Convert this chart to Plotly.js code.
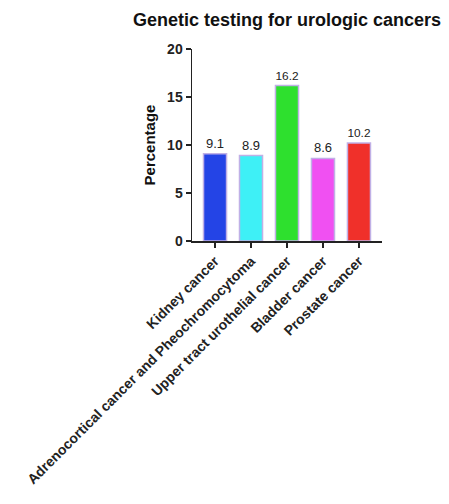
<!DOCTYPE html>
<html><head><meta charset="utf-8">
<script src="https://cdn.plot.ly/plotly-3.0.1.min.js"></script>
<style>html,body{margin:0;padding:0;background:#fff}</style>
</head><body><div id="c" style="width:449px;height:504px"></div>
<script>
const categories = ["Kidney cancer","Adrenocortical cancer and Pheochromocytoma","Upper tract urothelial cancer","Bladder cancer","Prostate cancer"];
const values = [9.1, 8.9, 16.2, 8.6, 10.2];
const valueLabels = ["9.1","8.9","16.2","8.6","10.2"];
const barColors = ["#2444e6","#3ef0f6","#2ee02e","#f050f2","#f0302a"];
const yTicks = [0,5,10,15,20];

Plotly.newPlot('c', [{
  type:'bar', x:categories, y:values, text:valueLabels,
  textposition:'outside', cliponaxis:false,
  textfont:{family:'Liberation Sans, Arial', size:13, color:'#222'},
  marker:{color:barColors, line:{color:'#c0b0e6', width:1.5}},
  width:0.64
}], {
  width:449, height:504,
  margin:{l:192, r:67, t:49, b:263},
  paper_bgcolor:'#fff', plot_bgcolor:'#fff',
  showlegend:false,
  title:{text:'<b>Genetic testing for urologic cancers</b>', x:287/449, xanchor:'center', y:1-20/504, yanchor:'middle',
    font:{family:'Liberation Sans, Arial', size:18, color:'#111'}},
  xaxis:{range:[-0.64,4.64], showline:true, linecolor:'#222', linewidth:1.5,
    ticks:'outside', ticklen:5, tickwidth:1.5, tickcolor:'#222', tickangle:-45,
    tickfont:{family:'Liberation Sans, Arial', size:14, color:'#222', weight:'bold'}, showgrid:false, zeroline:false},
  yaxis:{range:[0,20], tickvals:yTicks, showline:true, linecolor:'#222', linewidth:1.5,
    ticks:'outside', ticklen:5, tickwidth:1.5, tickcolor:'#222',
    tickfont:{family:'Liberation Sans, Arial', size:14, color:'#222', weight:'bold'}, showgrid:false, zeroline:false,
    title:{text:'<b>Percentage</b>', font:{family:'Liberation Sans, Arial', size:15, color:'#111'}, standoff:8}}
}, {displayModeBar:false, staticPlot:true});
</script></body></html>
